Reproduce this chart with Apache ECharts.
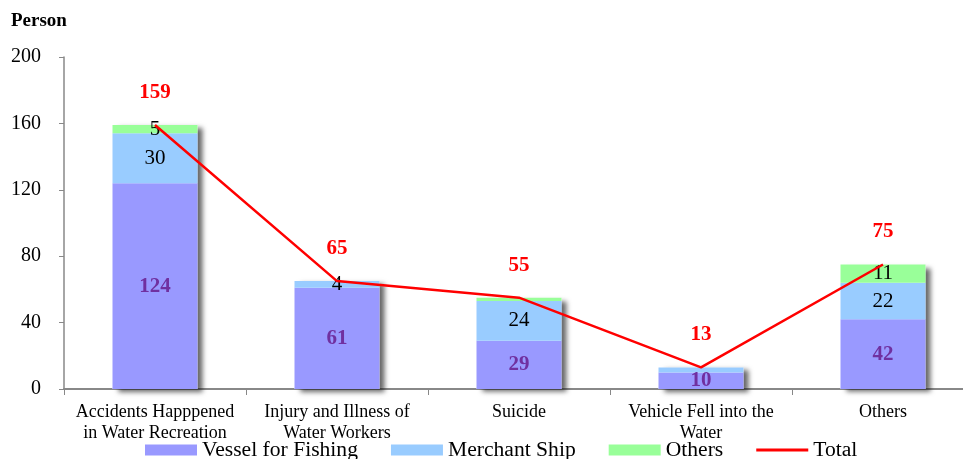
<!DOCTYPE html>
<html>
<head>
<meta charset="utf-8">
<script src="https://cdn.jsdelivr.net/npm/echarts@6/dist/echarts.min.js"></script>
<style>
  html, body { margin: 0; padding: 0; background: #fff; }
  #main { width: 963px; height: 459px; }
</style>
</head>
<body>
<div id="main"></div>
<script>
const categories = [
  'Accidents Happpened\nin Water Recreation',
  'Injury and Illness of\nWater Workers',
  'Suicide',
  'Vehicle Fell into the\nWater',
  'Others'
];
const fishing = [124, 61, 29, 10, 42];
const merchant = [30, 4, 24, 3, 22];
const others = [5, 0, 2, 0, 11];
const total = [159, 65, 55, 13, 75];
// which stacked segments carry a value label in the original
const merchantShown = [true, true, true, false, true];
const othersShown = [true, false, false, false, true];

const font = '"Liberation Serif", "Times New Roman", serif';

const chart = echarts.init(document.getElementById('main'));

const withLabels = (vals, shown) => vals.map((v, i) => ({
  value: v,
  label: { show: shown[i] }
}));

const options = {
  animation: false,
  textStyle: { fontFamily: font },
  grid: { left: 64, width: 910, top: 57, height: 332, outerBoundsMode: 'none', containLabel: false },
  legend: {
    top: 434,
    left: 140,
    itemGap: 33,
    itemWidth: 52,
    itemHeight: 11,
    textStyle: { fontFamily: font, fontSize: 21.6, color: '#000' },
    data: [
      { name: 'Vessel for Fishing', icon: 'rect' },
      { name: 'Merchant Ship', icon: 'rect' },
      { name: 'Others', icon: 'rect' },
      { name: 'Total', icon: 'path://M0,0L52,0L52,3L0,3Z' }
    ]
  },
  graphic: [{
    type: 'text',
    left: 11,
    top: 12,
    style: { text: 'Person', font: 'bold 19px ' + font, fill: '#000' }
  }],
  xAxis: {
    type: 'category',
    data: categories,
    axisLine: { lineStyle: { color: '#888', width: 2 } },
    axisTick: { show: true, length: 6, lineStyle: { color: '#888' } },
    axisLabel: {
      color: '#000', fontFamily: font, fontSize: 18, lineHeight: 21,
      interval: 0, margin: 13
    }
  },
  yAxis: {
    type: 'value',
    min: 0,
    max: 200,
    interval: 40,
    splitLine: { show: false },
    axisLine: { show: true, lineStyle: { color: '#888', width: 1.5 } },
    axisTick: { show: true, length: 5, lineStyle: { color: '#888' } },
    axisLabel: { color: '#000', fontFamily: font, fontSize: 20, margin: 23 }
  },
  series: [
    {
      // white backdrop that only casts the drop shadow of the whole column
      name: 'shadow',
      type: 'bar',
      barWidth: 85,
      barGap: '-100%',
      data: total,
      silent: true,
      z: 1,
      itemStyle: {
        color: '#fff',
        shadowColor: 'rgba(0,0,0,0.6)',
        shadowBlur: 5,
        shadowOffsetX: 5,
        shadowOffsetY: 3
      }
    },
    {
      name: 'Vessel for Fishing',
      type: 'bar',
      stack: 'a',
      barWidth: 85,
      barGap: '-100%',
      z: 2,
      data: fishing,
      itemStyle: { color: '#9999FF' },
      label: {
        show: true, position: 'inside', color: '#7030A0',
        fontFamily: font, fontSize: 21, fontWeight: 'bold'
      }
    },
    {
      name: 'Merchant Ship',
      type: 'bar',
      stack: 'a',
      barWidth: 85,
      barGap: '-100%',
      z: 2,
      data: withLabels(merchant, merchantShown),
      itemStyle: { color: '#99CCFF' },
      label: {
        position: 'inside', color: '#000',
        fontFamily: font, fontSize: 21
      }
    },
    {
      name: 'Others',
      type: 'bar',
      stack: 'a',
      barWidth: 85,
      barGap: '-100%',
      z: 2,
      data: withLabels(others, othersShown),
      itemStyle: { color: '#99FF99' },
      label: {
        position: 'inside', color: '#000',
        fontFamily: font, fontSize: 21
      }
    },
    {
      name: 'Total',
      type: 'line',
      data: total,
      symbol: 'circle',
      symbolSize: 0,
      lineStyle: { color: '#FF0000', width: 2.5 },
      itemStyle: { color: '#FF0000' },
      label: {
        show: true, position: 'top', distance: 22, color: '#FF0000',
        fontFamily: font, fontSize: 21, fontWeight: 'bold'
      },
      z: 5
    }
  ]
};

chart.setOption(options);
</script>
</body>
</html>
